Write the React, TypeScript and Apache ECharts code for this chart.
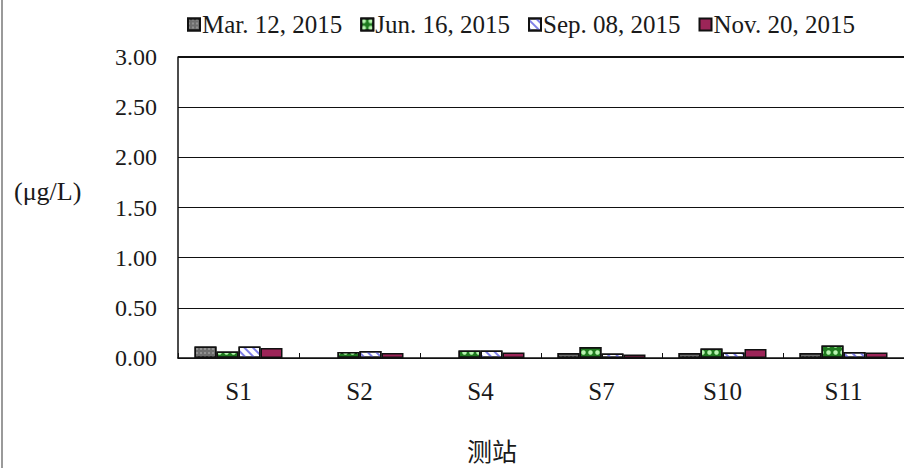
import React, { useEffect, useRef } from "react";
import * as echarts from "echarts";

const categories = ["S1", "S2", "S4", "S7", "S10", "S11"];
const seriesNames = ["Mar. 12, 2015", "Jun. 16, 2015", "Sep. 08, 2015", "Nov. 20, 2015"];
const marValues = [0.115, null, null, 0.05, 0.05, 0.05];
const junValues = [0.065, 0.06, 0.075, 0.11, 0.095, 0.125];
const sepValues = [0.115, 0.07, 0.075, 0.045, 0.055, 0.06];
const novValues = [0.1, 0.05, 0.055, 0.035, 0.09, 0.055];
const yTicks = { min: 0, max: 3, interval: 0.5 };
const yName = "(μg/L)";
const xName = "测站";

const FONT = "'Liberation Serif', 'Times New Roman', serif";

export default function App() {
  const ref = useRef<HTMLDivElement>(null);
  useEffect(() => {
    if (!ref.current) return;
    const chart = echarts.init(ref.current, null, { renderer: "svg" });
    const border = { borderColor: "#111", borderWidth: 1.5 };
    const styles = [
      {
        color: "#6e6e6e",
        ...border,
        decal: { symbol: "rect", symbolSize: 0.6, color: "rgba(255,255,255,0.8)", dashArrayX: [2, 2], dashArrayY: [2, 2] },
      },
      {
        color: "#1f7a1f",
        ...border,
        decal: { symbol: "circle", symbolSize: 0.9, color: "#b8f5b0", dashArrayX: [5, 2], dashArrayY: [5, 2] },
      },
      {
        color: "#ffffff",
        ...border,
        decal: { symbol: "rect", symbolSize: 1, color: "#8080e8", dashArrayX: [1, 0], dashArrayY: [2, 4], rotation: Math.PI / 4 },
      },
      { color: "#9c2558", ...border },
    ];
    const values = [marValues, junValues, sepValues, novValues];
    chart.setOption({
      animation: false,
      backgroundColor: "#ffffff",
      textStyle: { fontFamily: FONT },
      legend: {
        top: 7,
        left: 182,
        icon: "rect",
        itemWidth: 12,
        itemHeight: 12,
        itemGap: 18,
        textStyle: { fontFamily: FONT, fontSize: 25, color: "#1a1a1a", padding: [0, 0, 0, -3] },
        data: seriesNames,
      },
      grid: { left: 178, right: 0, top: 57, bottom: 110, containLabel: false },
      xAxis: {
        type: "category",
        data: categories,
        axisLine: { lineStyle: { color: "#111", width: 1.5 } },
        axisTick: { show: true, inside: true, length: 5, lineStyle: { color: "#111" } },
        axisLabel: { fontFamily: FONT, fontSize: 25, color: "#1a1a1a", margin: 21 },
      },
      yAxis: {
        type: "value",
        min: yTicks.min,
        max: yTicks.max,
        interval: yTicks.interval,
        axisLine: { show: true, lineStyle: { color: "#111", width: 1.5 } },
        axisTick: { show: false },
        splitLine: { lineStyle: { color: "#111", width: 1 } },
        axisLabel: {
          fontFamily: FONT,
          fontSize: 24,
          color: "#1a1a1a",
          margin: 21,
          formatter: (v: number) => v.toFixed(2),
        },
      },
      series: seriesNames.map((name, i) => ({
        name,
        type: "bar",
        data: values[i],
        barWidth: 22,
        barGap: "0%",
        itemStyle: styles[i],
      })),
      graphic: [
        { type: "line", shape: { x1: 2, y1: 0, x2: 2, y2: 468 }, style: { stroke: "#9a9a9a", lineWidth: 2 } },
        { type: "line", shape: { x1: 178, y1: 57, x2: 904, y2: 57 }, style: { stroke: "#111", lineWidth: 2 } },
        {
          type: "text",
          left: 14,
          top: 178,
          style: { text: yName, fontFamily: FONT, fontSize: 26, fill: "#1a1a1a" },
        },
        {
          type: "text",
          left: 467,
          top: 437,
          style: { text: xName, fontFamily: "'Noto Sans CJK TC', 'Noto Sans CJK SC', sans-serif", fontSize: 25, fill: "#1a1a1a" },
        },
      ],
    });
    return () => chart.dispose();
  }, []);
  return (
    <div
      ref={ref}
      style={{ position: "fixed", left: 0, top: 0, width: 904, height: 468, background: "#fff" }}
    />
  );
}
